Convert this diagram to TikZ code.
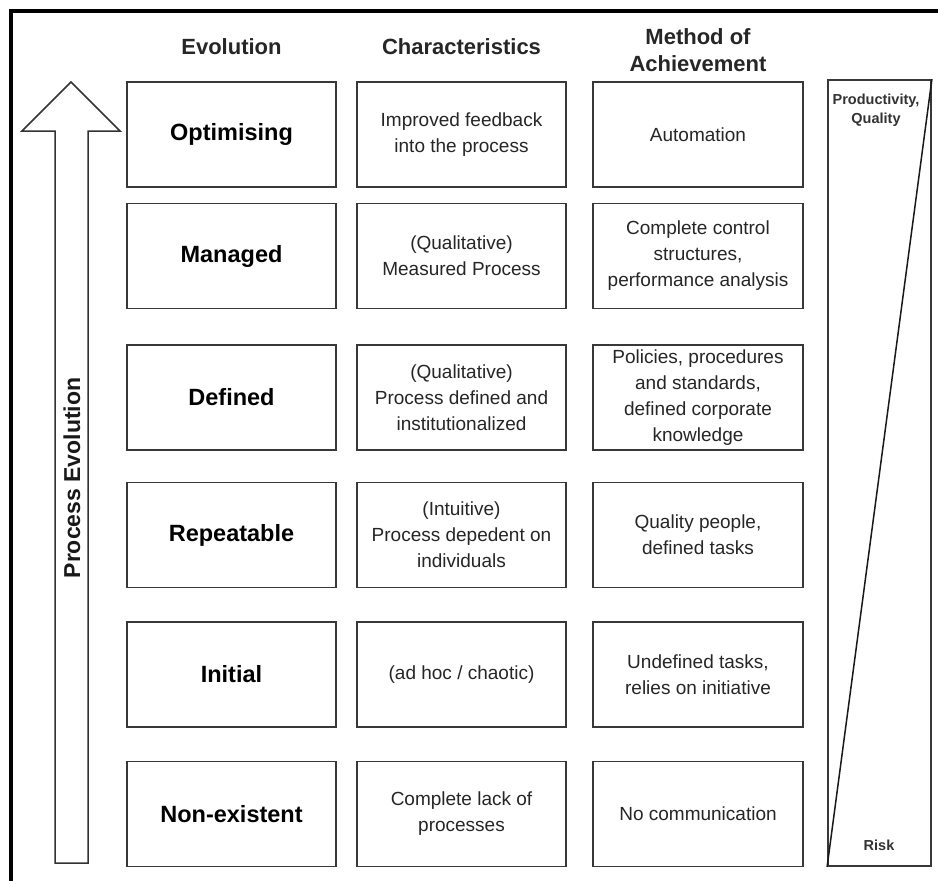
\documentclass[tikz,border=0pt]{standalone}
\usepackage{fontspec}
\setmainfont{Liberation Sans}
\begin{document}
\begin{tikzpicture}[x=1pt,y=-1pt,
  cell/.style={draw=black!78, line width=1.8pt, minimum width=209pt, minimum height=105pt, inner sep=0pt, align=center, font=\fontsize{19}{26}\selectfont, text=black!85},
  stage/.style={cell, font=\fontsize{23.5}{28}\selectfont\bfseries, text=black},
  head/.style={inner sep=0pt, align=center, font=\fontsize{22}{27}\selectfont\bfseries, text=black!85},
  outline/.style={draw=black!80, line width=1.5pt},
  small/.style={inner sep=0pt, align=center, font=\fontsize{14.5}{19}\selectfont\bfseries, text=black!80}]
\useasboundingbox (0,0) rectangle (938,881);
\fill[white] (0,0) rectangle (938,881);
% frame (top and left)
\draw[line width=4pt, black] (11,881) -- (11,11) -- (938,11);
% headers
\node[head] (h1) at (231.5,47) {Evolution};
\node[head] (h2) at (461.5,47) {Characteristics};
\node[head] (h3) at (698,50) {Method of\\Achievement};
% big arrow
\draw[outline, fill=white] (71,82) -- (120,131) -- (88,131) -- (88,863) -- (55,863) -- (55,131) -- (22,131) -- cycle;
\node[inner sep=0pt, rotate=90, font=\fontsize{23}{28}\selectfont\bfseries, text=black!90] (pe) at (72,478) {Process Evolution};
% rows
\foreach \y/\n/\a/\b/\c in {
  134.5/1/Optimising/{Improved feedback\\into the process}/Automation,
  256/2/Managed/{(Qualitative)\\Measured Process}/{Complete control\\structures,\\performance analysis},
  397.5/3/Defined/{(Qualitative)\\Process defined and\\institutionalized}/{Policies, procedures\\and standards,\\defined corporate\\knowledge},
  535/4/Repeatable/{(Intuitive)\\Process depedent on\\individuals}/{Quality people,\\defined tasks},
  674.5/5/Initial/{(ad hoc / chaotic)}/{Undefined tasks,\\relies on initiative},
  814/6/Non-existent/{Complete lack of\\processes}/{No communication}}{
  \node[stage] (s\n) at (231.5,\y) {\a};
  \node[cell] (c\n) at (461.5,\y) {\b};
  \node[cell, minimum width=210pt] (m\n) at (698,\y) {\c};
}
% right tall box
\node[draw=black!78, line width=1.8pt, minimum width=103pt, minimum height=786pt, inner sep=0pt] (rb) at (879.5,473) {};
\draw[line width=1.5pt, black!90] (rb.south west) -- (rb.north east);
\node[small] (pq) at (876,110) {Productivity,\\Quality};
\node[small] (rk) at (879,845) {Risk};
\end{tikzpicture}
\end{document}
